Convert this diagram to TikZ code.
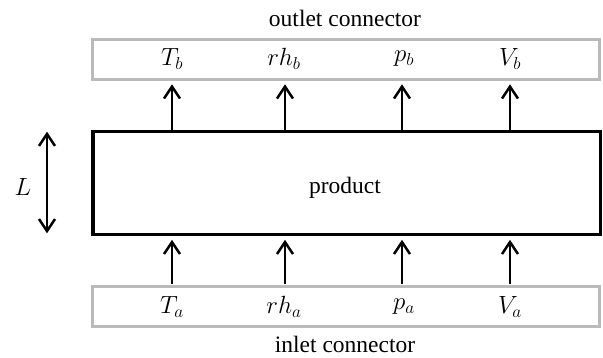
\documentclass[tikz,border=0pt]{standalone}
\usepackage{fontspec}
\setmainfont{Liberation Serif}
\usetikzlibrary{arrows.meta}
\begin{document}
\begin{tikzpicture}[x=1pt,y=-1pt,
  conn/.style={draw=black!27, line width=3pt, minimum width=507pt, minimum height=40pt, inner sep=0pt},
  prod/.style={draw=black, line width=3.2pt, minimum width=507.5pt, minimum height=103pt, inner sep=0pt},
  barb/.tip={Straight Barb[length=12pt,width=16pt,line width=2.5pt]},
  flow/.style={line width=2.5pt, -barb},
  dimarrow/.style={line width=2.5pt, barb-barb},
  txt/.style={font=\fontsize{23.5}{27}\selectfont, inner sep=0pt},
  var/.style={font=\fontsize{23}{27}\selectfont, inner sep=0pt},
]
\useasboundingbox (0,0) rectangle (603,358);

\node[conn] (out) at (345.5,59.3) {};
\node[prod] (prod) at (346.8,183.2) {};
\node[conn] (in) at (345.5,307) {};

\node[txt] (prodlbl) at (345,187.5) {product};
\node[txt] (outlbl) at (345,18) {outlet connector};
\node[txt] (inlbl) at (345,344) {inlet connector};

\node[var] (Tb) at (172,59) {$T_b$};
\node[var] (rhb) at (284,59) {$rh_b$};
\node[var] (pb) at (404,59) {$p_b$};
\node[var] (Vb) at (510,59) {$V_b$};

\node[var] (Ta) at (172,307) {$T_a$};
\node[var] (rha) at (284,307) {$rh_a$};
\node[var] (pa) at (404,307) {$p_a$};
\node[var] (Va) at (510,307) {$V_a$};

\foreach \x in {172,285,402,510}{
  \draw[flow, shorten >=3.5pt] (prod.north -| \x,0) -- (out.south -| \x,0);
}
\foreach \x in {172,285,402,510}{
  \draw[flow, shorten >=3.5pt, shorten <=1.5pt] (in.north -| \x,0) -- (prod.south -| \x,0);
}

\coordinate (Ltop) at (47,131.7);
\coordinate (Lbot) at (47,233.3);
\draw[dimarrow] (Ltop) -- (Lbot);
\node[var] (L) at (23,187) {$L$};
\end{tikzpicture}
\end{document}
